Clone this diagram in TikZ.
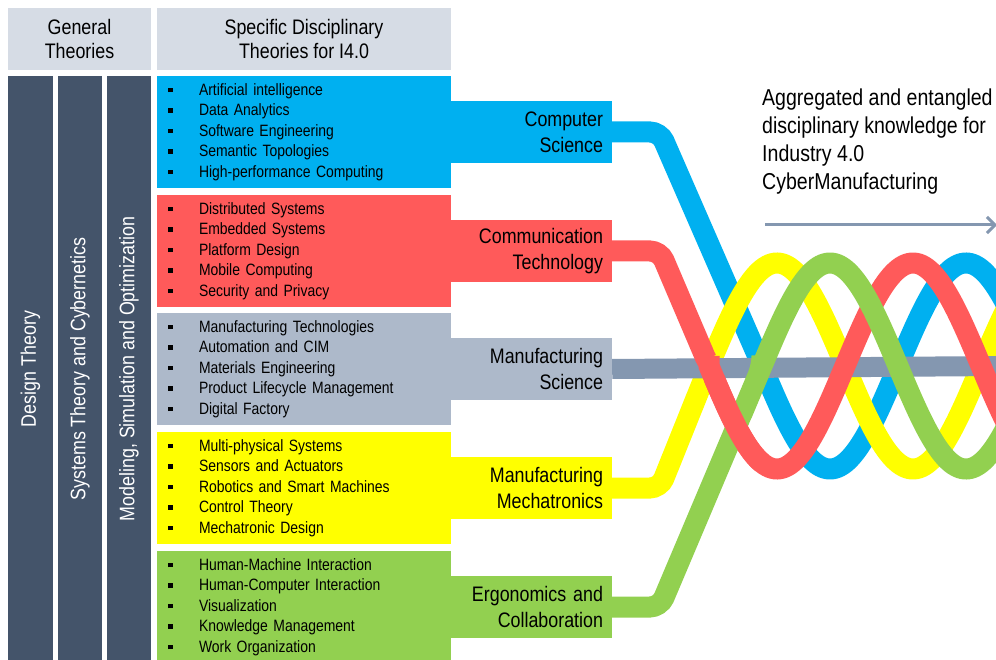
\documentclass[tikz,border=0pt]{standalone}
\usepackage{fontspec}
\setmainfont{Liberation Sans}[FakeStretch=0.85]
\usetikzlibrary{arrows.meta}

\definecolor{hdrgray}{HTML}{D6DCE5}
\definecolor{coldark}{HTML}{44546A}
\definecolor{csblue}{HTML}{00B0F0}
\definecolor{ctred}{HTML}{FF5A5A}
\definecolor{msgray}{HTML}{ADB9CA}
\definecolor{msbar}{HTML}{8497B0}
\definecolor{mmyellow}{HTML}{FFFF00}
\definecolor{ecgreen}{HTML}{92D050}

\tikzset{
  hdrbox/.style={fill=hdrgray,minimum height=62pt,inner sep=0pt,align=center,
    font=\fontsize{21}{24}\selectfont},
  colbox/.style={fill=coldark,text=white,rotate=90,minimum width=586pt,
    minimum height=44pt,inner sep=0pt,font=\fontsize{21}{24}\selectfont},
  listbox/.style={minimum width=294pt,minimum height=112pt,text width=272pt,
    inner xsep=11pt,inner ysep=0pt,align=left,font=\fontsize{16.4}{20.5}\selectfont},
  tabbox/.style={minimum width=161pt,minimum height=62pt,text width=143pt,
    inner xsep=9pt,inner ysep=0pt,align=right,font=\fontsize{21}{26}\selectfont},
  ribbon/.style={line width=21pt},
}
\newcommand{\itm}[1]{\makebox[31pt][l]{\rule[3pt]{4.5pt}{4.5pt}}#1}

\begin{document}
\begin{tikzpicture}[x=1pt,y=-1pt]
  \useasboundingbox (0,0) rectangle (996,660);
  \clip (0,0) rectangle (996,660);
  % Headers
  \node[hdrbox,minimum width=143pt] (gen) at (79.5,39) {General\\Theories};
  \node[hdrbox,minimum width=294pt] (spec) at (304,39) {Specific Disciplinary\\Theories for I4.0};
  % General theory columns
  \node[colbox,minimum height=45pt] (design) at (30.5,369) {Design Theory};
  \node[colbox] (systems) at (80,369) {Systems Theory and Cybernetics};
  \node[colbox] (modeling) at (129,369) {Modeling, Simulation and Optimization};
  % Discipline lists
  \node[listbox,fill=csblue] (csbox) at (304,132)
    {\itm{Artificial intelligence}\\ \itm{Data Analytics}\\ \itm{Software Engineering}\\
     \itm{Semantic Topologies}\\ \itm{High-performance Computing}};
  \node[listbox,fill=ctred] (ctbox) at (304,251)
    {\itm{Distributed Systems}\\ \itm{Embedded Systems}\\ \itm{Platform Design}\\
     \itm{Mobile Computing}\\ \itm{Security and Privacy}};
  \node[listbox,fill=msgray] (msbox) at (304,369)
    {\itm{Manufacturing Technologies}\\ \itm{Automation and CIM}\\ \itm{Materials Engineering}\\
     \itm{Product Lifecycle Management}\\ \itm{Digital Factory}};
  \node[listbox,fill=mmyellow] (mmbox) at (304,488)
    {\itm{Multi-physical Systems}\\ \itm{Sensors and Actuators}\\ \itm{Robotics and Smart Machines}\\
     \itm{Control Theory}\\ \itm{Mechatronic Design}};
  \node[listbox,fill=ecgreen] (ecbox) at (304,607)
    {\itm{Human-Machine Interaction}\\ \itm{Human-Computer Interaction}\\ \itm{Visualization}\\
     \itm{Knowledge Management}\\ \itm{Work Organization}};
  % Discipline tabs
  \node[tabbox,fill=csblue] (cs) at (531.5,132) {Computer\\Science};
  \node[tabbox,fill=ctred] (ct) at (531.5,251) {Communication\\Technology};
  \node[tabbox,fill=msgray] (ms) at (531.5,369) {Manufacturing\\Science};
  \node[tabbox,fill=mmyellow] (mm) at (531.5,488) {Manufacturing\\Mechatronics};
  \node[tabbox,fill=ecgreen] (ec) at (531.5,607) {Ergonomics and\\Collaboration};
  % Entangled strands
  \draw[ribbon,csblue] (cs.east) [rounded corners=10pt] -- (660,132) -- (762,366)
    [sharp corners] -- plot[domain=762:1010,samples=120] (\x,{366+103*cos((\x-830)/272*360)});
  \draw[ribbon,mmyellow] (mm.east) [rounded corners=10pt] -- (660,488) -- (709,366)
    [sharp corners] -- plot[domain=709:1010,samples=120] (\x,{366-103*cos((\x-777)/272*360)});
  \draw[line width=20pt,msbar] (ms.east) -- (1000,366);
  \draw[ribbon,ctred] (ct.east) [rounded corners=10pt] -- (660,251) -- (709,366)
    [sharp corners] -- plot[domain=709:1010,samples=120] (\x,{366+103*cos((\x-777)/272*360)});
  \draw[ribbon,ecgreen] (ec.east) [rounded corners=10pt] -- (660,607) -- (762,366)
    [sharp corners] -- plot[domain=762:1010,samples=120] (\x,{366-103*cos((\x-830)/272*360)});
  % -- red passes over the green lead-in
  \draw[ribbon,ctred] plot[domain=714:762,samples=30] (\x,{366+103*cos((\x-777)/272*360)});
  % Caption and arrow
  \node[anchor=west,align=left,inner sep=0pt,font=\fontsize{23}{28}\selectfont] (agg) at (762,142)
    {Aggregated and entangled\\disciplinary knowledge for\\Industry 4.0\\CyberManufacturing};
  \coordinate (arrs) at (765,225);
  \coordinate (arre) at (997,225);
  \draw[msbar,line width=3pt,-{Straight Barb[length=8pt,width=16pt]}] (arrs) -- (arre);
\end{tikzpicture}
\end{document}
